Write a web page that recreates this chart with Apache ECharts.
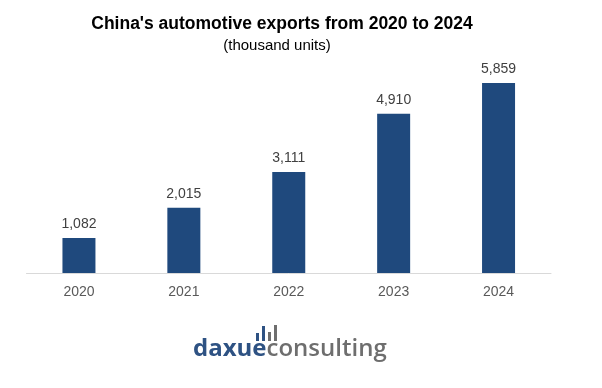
<!DOCTYPE html>
<html><head><meta charset="utf-8">
<script src="https://cdn.jsdelivr.net/npm/echarts@6/dist/echarts.min.js"></script>
<style>html,body{margin:0;padding:0;background:#fff}#c{width:602px;height:388px}</style>
</head><body><div id="c"></div>
<script>
const categories = ['2020', '2021', '2022', '2023', '2024'];
const exportsK = [1082, 2015, 3111, 4910, 5859];
const titleText = "China's automotive exports from 2020 to 2024";
const subtitleText = '(thousand units)';

const chart = echarts.init(document.getElementById('c'), null, {renderer: 'canvas'});
const blue = '#1f497d';
chart.setOption({
  animation: false,
  backgroundColor: '#ffffff',
  title: [
    {text: titleText, left: 277, textAlign: 'center', top: 10,
     textStyle: {fontFamily: 'Liberation Sans, Arial', fontSize: 17.5, fontWeight: 'bold', color: '#000'}},
    {text: subtitleText, left: 272, textAlign: 'center', top: 33,
     textStyle: {fontFamily: 'Liberation Sans, Arial', fontSize: 15, fontWeight: 'normal', color: '#000'}}
  ],
  grid: {left: 26.5, right: 51, top: 78.4, bottom: 115, containLabel: false},
  xAxis: {
    type: 'category', data: categories,
    axisLine: {lineStyle: {color: '#d9d9d9', width: 1}},
    axisTick: {show: false},
    axisLabel: {color: '#595959', fontFamily: 'Liberation Sans, Arial', fontSize: 14, margin: 12}
  },
  yAxis: {type: 'value', min: 0, max: 6000, show: false, splitLine: {show: false}},
  series: [{
    type: 'bar', data: exportsK, barWidth: 33,
    itemStyle: {color: blue},
    label: {show: true, position: 'top', distance: 7, color: '#404040',
      fontFamily: 'Liberation Sans, Arial', fontSize: 14,
      formatter: p => p.value.toLocaleString('en-US')}
  }],
  graphic: [
    {type: 'rect', shape: {x: 256, y: 333, width: 3, height: 8}, style: {fill: '#2e5283'}},
    {type: 'rect', shape: {x: 262, y: 326, width: 3, height: 15}, style: {fill: '#2e5283'}},
    {type: 'rect', shape: {x: 268, y: 332, width: 3, height: 9}, style: {fill: '#6e6e6e'}},
    {type: 'rect', shape: {x: 274, y: 325, width: 3, height: 16}, style: {fill: '#6e6e6e'}},
    {type: 'text', left: 193, top: 337, style: {
      text: '{a|daxue}{b|consulting}',
      rich: {
        a: {fill: '#2e5283', fontFamily: '"Open Sans", sans-serif', fontWeight: 700, fontSize: 24},
        b: {fill: '#6e6e6e', fontFamily: '"Open Sans", sans-serif', fontWeight: 600, fontSize: 24}
      }}}
  ]
});
</script></body></html>
